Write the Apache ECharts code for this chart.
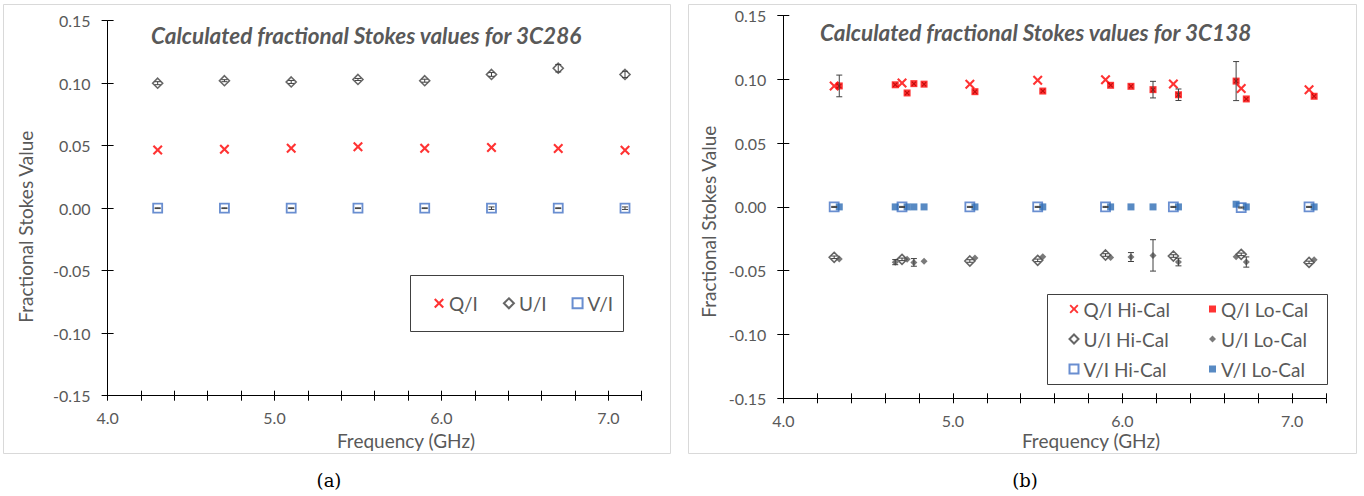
<!DOCTYPE html>
<html><head><meta charset="utf-8">
<script src="https://cdn.jsdelivr.net/npm/echarts@6/dist/echarts.min.js"></script>
<style>html,body{margin:0;padding:0;background:#fff}#c{width:1364px;height:496px}</style>
</head><body><div id="c"></div>
<script>
// ---------- data: panel (a) 3C286 ----------
const aFreq = [4.3, 4.7, 5.1, 5.5, 5.9, 6.3, 6.7, 7.1];
const aQ = [0.0465, 0.0471, 0.0479, 0.0492, 0.0479, 0.0485, 0.0477, 0.0463];
const aU = [0.100, 0.102, 0.101, 0.103, 0.102, 0.107, 0.112, 0.107];
const aV = [0, 0, 0, 0, 0, 0, 0, 0];
const aErrU = [0.0012, 0.0008, 0.0012, 0.0008, 0.0012, 0.0015, 0.003, 0.0025];
const aErrV = [0.0003, 0.0003, 0.0003, 0.0003, 0.0003, 0.001, 0.0003, 0.001];

// ---------- data: panel (b) 3C138 ----------
const hiFreq = [4.3, 4.7, 5.1, 5.5, 5.9, 6.3, 6.7, 7.1];
const hiQ = [0.0948, 0.0971, 0.0961, 0.0992, 0.0997, 0.0963, 0.0927, 0.0919];
const hiU = [-0.0395, -0.0411, -0.0424, -0.0419, -0.0377, -0.0385, -0.0372, -0.0435];
const hiV = [0, 0, 0, 0, 0, 0, -0.0005, 0];
const hiErrU = [0.001, 0.001, 0.001, 0.001, 0.001, 0.001, 0.001, 0.001];
const hiErrV = [0.0004, 0.0004, 0.0004, 0.0004, 0.0004, 0.0004, 0.0004, 0.0004];

const loFreq = [4.33, 4.66, 4.73, 4.77, 4.83, 5.13, 5.53, 5.93, 6.05, 6.18, 6.33, 6.67, 6.73, 7.13];
const loQ = [0.0948, 0.0957, 0.0893, 0.0966, 0.0962, 0.0903, 0.0908, 0.0953, 0.0945, 0.0919, 0.0879, 0.0986, 0.0846, 0.0867];
const loU = [-0.0409, -0.0433, -0.0411, -0.0435, -0.0426, -0.0401, -0.0390, -0.0396, -0.0393, -0.0380, -0.0432, -0.0391, -0.0432, -0.0414];
const loV = [0, 0, 0, 0, 0, 0, 0, 0, 0, 0, 0, 0.0021, 0, 0];
const loErrQ = [0.0085, 0, 0, 0, 0, 0, 0, 0, 0, 0.0065, 0.0045, 0.0153, 0, 0];
const loErrU = [0, 0.002, 0, 0.003, 0, 0, 0, 0, 0.0035, 0.0123, 0.003, 0, 0.004, 0];

const xTicks = { min: 4.0, max: 7.2, interval: 0.2 };
const yTicks = { min: -0.15, max: 0.15, interval: 0.05 };

// ---------- helpers ----------
const FONT = 'Lato';
const LABEL = '#595959';
const XMARK = 'path://M0,1.5 L1.5,0 L5,3.5 L8.5,0 L10,1.5 L6.5,5 L10,8.5 L8.5,10 L5,6.5 L1.5,10 L0,8.5 L3.5,5 Z';

function pts(xs, ys) { return xs.map((x, i) => [x, ys[i]]); }

function errSeries(xs, ys, es, axis, cap) {
  const data = [];
  xs.forEach((x, i) => { if (es[i] > 0) data.push([x, ys[i] - es[i], ys[i] + es[i]]); });
  return {
    type: 'custom', xAxisIndex: axis, yAxisIndex: axis, silent: true, z: 5,
    data: data,
    renderItem(params, api) {
      const x = api.value(0);
      const lo = api.coord([x, api.value(1)]);
      const hi = api.coord([x, api.value(2)]);
      const st = { stroke: '#404040', lineWidth: 1 };
      return { type: 'group', children: [
        { type: 'line', shape: { x1: lo[0], y1: lo[1], x2: hi[0], y2: hi[1] }, style: st },
        { type: 'line', shape: { x1: lo[0] - cap, y1: lo[1], x2: lo[0] + cap, y2: lo[1] }, style: st },
        { type: 'line', shape: { x1: hi[0] - cap, y1: hi[1], x2: hi[0] + cap, y2: hi[1] }, style: st }
      ]};
    }
  };
}

function mainX(grid) {
  return { type: 'value', gridIndex: grid, position: 'bottom', ...xTicks,
    axisLine: { show: true, onZero: false, lineStyle: { color: '#000', width: 1 } },
    axisTick: { show: true, inside: false, length: 5, lineStyle: { color: '#000' } },
    axisLabel: { show: true, margin: 14, color: LABEL, fontFamily: FONT, fontSize: 16,
      formatter: v => Math.abs(v - Math.round(v)) < 1e-6 ? v.toFixed(1) : '' },
    splitLine: { show: false } };
}
function overX(grid) {
  return { type: 'value', gridIndex: grid, position: 'bottom', ...xTicks,
    axisLine: { show: false, onZero: false },
    axisTick: { show: true, inside: true, length: 5, lineStyle: { color: '#000' } },
    axisLabel: { show: false }, splitLine: { show: false } };
}
function mainY(grid) {
  return { type: 'value', gridIndex: grid, position: 'left', ...yTicks,
    axisLine: { show: true, onZero: false, lineStyle: { color: '#000', width: 1 } },
    axisTick: { show: true, inside: false, length: 6, lineStyle: { color: '#000' } },
    axisLabel: { show: true, margin: 17, color: LABEL, fontFamily: FONT, fontSize: 16,
      formatter: v => v.toFixed(2) },
    splitLine: { show: false } };
}
function overY(grid) {
  return { type: 'value', gridIndex: grid, position: 'left', ...yTicks,
    axisLine: { show: false, onZero: false },
    axisTick: { show: true, inside: true, length: 6, lineStyle: { color: '#000' } },
    axisLabel: { show: false }, splitLine: { show: false } };
}

const gridA = { left: 107.6, top: 20.7, width: 534.1, height: 375 };
const gridB = { left: 783.3, top: 15.5, width: 542.7, height: 382.8 };

const RED = '#FF0000', DARK = '#404040', BLUE = '#4472C4', BLUE2 = '#2E6DB4', GREY = '#595959';

const option = {
  animation: false,
  backgroundColor: '#fff',
  grid: [gridA, gridA, gridB, gridB],
  xAxis: [mainX(0), overX(1), mainX(2), overX(3)],
  yAxis: [mainY(0), overY(1), mainY(2), overY(3)],
  legend: [
    { data: ['Q/I', 'U/I', 'V/I'], left: 434, top: 292.3, padding: 0, orient: 'horizontal',
      itemWidth: 10, itemHeight: 10, itemGap: 25,
      textStyle: { fontFamily: FONT, fontSize: 19, color: LABEL, lineHeight: 22 } },
    { data: ['Q/I Hi-Cal', 'U/I Hi-Cal', 'V/I Hi-Cal'], left: 1068.5, top: 299, padding: 0, orient: 'vertical',
      itemWidth: 9, itemHeight: 9, itemGap: 10,
      textStyle: { fontFamily: FONT, fontSize: 19, color: LABEL, lineHeight: 20 } },
    { data: ['Q/I Lo-Cal', 'U/I Lo-Cal', 'V/I Lo-Cal'], left: 1209, top: 299, padding: 0, orient: 'vertical',
      itemWidth: 7, itemHeight: 7, itemGap: 10,
      textStyle: { fontFamily: FONT, fontSize: 19, color: LABEL, lineHeight: 20 } }
  ],
  series: [
    // panel (a)
    { name: 'Q/I', type: 'scatter', xAxisIndex: 0, yAxisIndex: 0, data: pts(aFreq, aQ),
      symbol: XMARK, symbolSize: 10, itemStyle: { color: RED } },
    { name: 'U/I', type: 'scatter', xAxisIndex: 0, yAxisIndex: 0, data: pts(aFreq, aU),
      symbol: 'diamond', symbolSize: 10, itemStyle: { color: '#fff', borderColor: DARK, borderWidth: 1.6 } },
    { name: 'V/I', type: 'scatter', xAxisIndex: 0, yAxisIndex: 0, data: pts(aFreq, aV),
      symbol: 'rect', symbolSize: 9, itemStyle: { color: '#fff', borderColor: BLUE, borderWidth: 1.8 } },
    errSeries(aFreq, aU, aErrU, 0, 3),
    errSeries(aFreq, aV, aErrV, 0, 3),
    // panel (b)
    { name: 'Q/I Hi-Cal', type: 'scatter', xAxisIndex: 2, yAxisIndex: 2, data: pts(hiFreq, hiQ),
      symbol: XMARK, symbolSize: 10, itemStyle: { color: RED } },
    { name: 'Q/I Lo-Cal', type: 'scatter', xAxisIndex: 2, yAxisIndex: 2, data: pts(loFreq, loQ),
      symbol: 'rect', symbolSize: 7, itemStyle: { color: RED } },
    { name: 'Q/I Lo-Cal mark', type: 'scatter', xAxisIndex: 2, yAxisIndex: 2, data: pts(loFreq, loQ),
      symbol: XMARK, symbolSize: 5, itemStyle: { color: '#B00000' }, z: 3 },
    { name: 'U/I Hi-Cal', type: 'scatter', xAxisIndex: 2, yAxisIndex: 2, data: pts(hiFreq, hiU),
      symbol: 'diamond', symbolSize: 10, itemStyle: { color: '#fff', borderColor: DARK, borderWidth: 1.6 } },
    { name: 'U/I Lo-Cal', type: 'scatter', xAxisIndex: 2, yAxisIndex: 2, data: pts(loFreq, loU),
      symbol: 'diamond', symbolSize: 7, itemStyle: { color: GREY } },
    { name: 'V/I Hi-Cal', type: 'scatter', xAxisIndex: 2, yAxisIndex: 2, data: pts(hiFreq, hiV),
      symbol: 'rect', symbolSize: 9, itemStyle: { color: '#fff', borderColor: BLUE, borderWidth: 1.8 } },
    { name: 'V/I Lo-Cal', type: 'scatter', xAxisIndex: 2, yAxisIndex: 2, data: pts(loFreq, loV),
      symbol: 'rect', symbolSize: 7, itemStyle: { color: BLUE2 } },
    errSeries(hiFreq, hiU, hiErrU, 2, 3),
    errSeries(hiFreq, hiV, hiErrV, 2, 3),
    errSeries(loFreq, loQ, loErrQ, 2, 3),
    errSeries(loFreq, loU, loErrU, 2, 3)
  ],
  graphic: [
    { type: 'rect', shape: { x: 3.5, y: 4.5, width: 667, height: 449 }, style: { fill: 'none', stroke: '#D9D9D9', lineWidth: 1 }, z: -1 },
    { type: 'rect', shape: { x: 688.5, y: 4.5, width: 668, height: 449 }, style: { fill: 'none', stroke: '#D9D9D9', lineWidth: 1 }, z: -1 },
    { type: 'rect', shape: { x: 410.5, y: 275.5, width: 213, height: 56 }, style: { fill: 'none', stroke: '#404040', lineWidth: 1 } },
    { type: 'rect', shape: { x: 1047.5, y: 294.5, width: 280, height: 90 }, style: { fill: 'none', stroke: '#404040', lineWidth: 1 } },
    { type: 'text', x: 151, y: 35, style: { text: 'Calculated fractional Stokes values for 3C286', fontFamily: FONT, fontSize: 22.5, fontWeight: 'bold', fontStyle: 'italic', fill: LABEL, verticalAlign: 'middle' } },
    { type: 'text', x: 820, y: 32, style: { text: 'Calculated fractional Stokes values for 3C138', fontFamily: FONT, fontSize: 22.5, fontWeight: 'bold', fontStyle: 'italic', fill: LABEL, verticalAlign: 'middle' } },
    { type: 'text', x: 25, y: 226.7, rotation: Math.PI / 2, style: { text: 'Fractional Stokes Value', fontFamily: FONT, fontSize: 19, fill: LABEL, align: 'center', verticalAlign: 'middle' } },
    { type: 'text', x: 708, y: 221.7, rotation: Math.PI / 2, style: { text: 'Fractional Stokes Value', fontFamily: FONT, fontSize: 19, fill: LABEL, align: 'center', verticalAlign: 'middle' } },
    { type: 'text', x: 406, y: 440, style: { text: 'Frequency (GHz)', fontFamily: FONT, fontSize: 19, fill: LABEL, align: 'center', verticalAlign: 'middle' } },
    { type: 'text', x: 1091, y: 440, style: { text: 'Frequency (GHz)', fontFamily: FONT, fontSize: 19, fill: LABEL, align: 'center', verticalAlign: 'middle' } },
    { type: 'text', x: 329, y: 480, style: { text: '(a)', fontFamily: 'DejaVu Serif', fontSize: 18, fill: '#000', align: 'center', verticalAlign: 'middle' } },
    { type: 'text', x: 1025, y: 480, style: { text: '(b)', fontFamily: 'DejaVu Serif', fontSize: 18, fill: '#000', align: 'center', verticalAlign: 'middle' } }
  ]
};

const chart = echarts.init(document.getElementById('c'), null, { renderer: 'svg' });
chart.setOption(option);
</script>
</body></html>
